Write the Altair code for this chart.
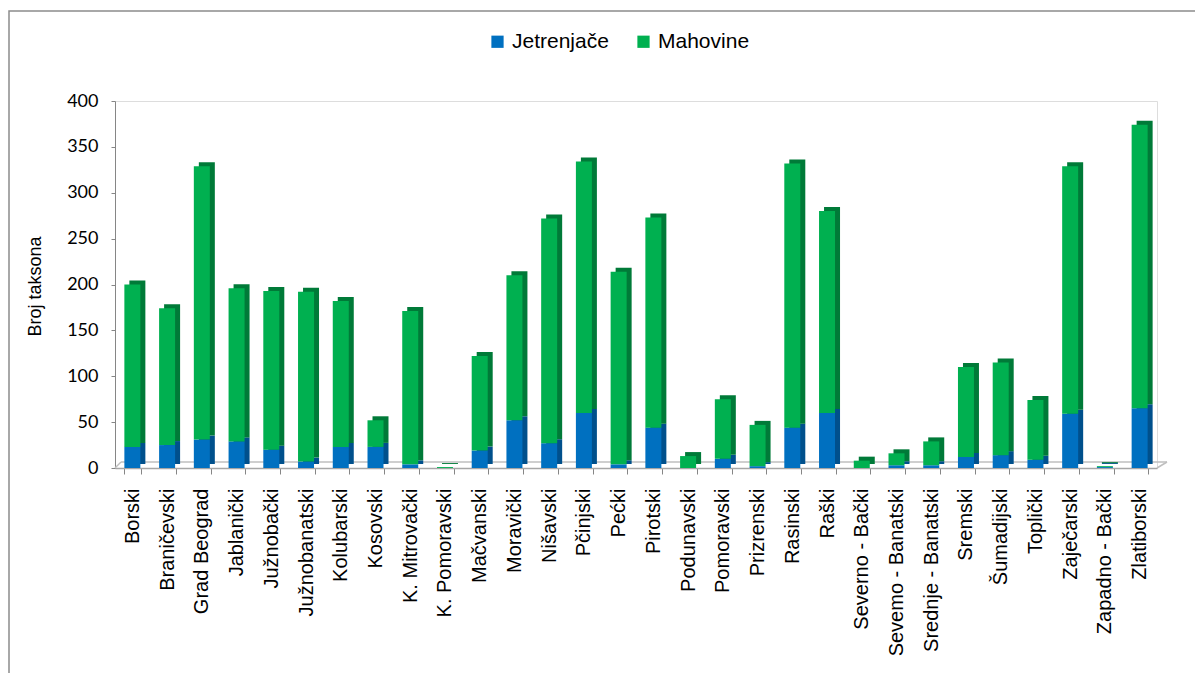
import altair as alt
import pandas as pd

okrugi = [
    "Borski", "Braničevski", "Grad Beograd", "Jablanički", "Južnobački",
    "Južnobanatski", "Kolubarski", "Kosovski", "K. Mitrovački", "K. Pomoravski",
    "Mačvanski", "Moravički", "Nišavski", "Pčinjski", "Pećki",
    "Pirotski", "Podunavski", "Pomoravski", "Prizrenski", "Rasinski",
    "Raški", "Severno - Bački", "Sevemo - Banatski", "Srednje - Banatski", "Sremski",
    "Šumadijski", "Toplički", "Zaječarski", "Zapadno - Bački", "Zlatiborski",
]
jetrenjace = [23, 25, 31, 29, 20, 7, 23, 23, 4, 0,
              19, 52, 27, 60, 4, 44, 0, 10, 2, 44,
              60, 0, 3, 3, 12, 14, 9, 59, 1, 65]
ukupno = [200, 174, 329, 196, 193, 192, 182, 52, 171, 1,
          122, 210, 272, 334, 214, 273, 13, 75, 47, 332,
          280, 8, 16, 29, 110, 115, 74, 329, 2, 374]
mahovine = [t - j for t, j in zip(ukupno, jetrenjace)]

serije = ["Jetrenjače", "Mahovine"]
boje = ["#0070C0", "#00B050"]
boje_tamne = ["#00508C", "#007A38"]

rows = []
for i, o in enumerate(okrugi):
    rows.append({"Okrug": o, "Vrsta": serije[0], "Broj": jetrenjace[i], "red": 0})
    rows.append({"Okrug": o, "Vrsta": serije[1], "Broj": mahovine[i], "red": 1})
df = pd.DataFrame(rows)

W, H = 1042, 367

x_enc = alt.X("Okrug:N", sort=okrugi, title=None,
              scale=alt.Scale(paddingInner=0.5, paddingOuter=0.25),
              axis=alt.Axis(labelAngle=-90, labelAlign="right", labelBaseline="middle",
                            labelFont="Liberation Sans", labelFontSize=20, labelColor="#000000",
                            labelPadding=14, labelLimit=300, tickBand="extent", tickSize=6,
                            tickColor="#868686", domainColor="#A6A6A6", domainWidth=1.5,
                            grid=False))
y_enc = alt.Y("Broj:Q", stack="zero",
              scale=alt.Scale(domain=[0, 400]),
              axis=alt.Axis(values=list(range(0, 401, 50)), title="Broj taksona",
                            labelFont="Lato", labelFontSize=18, labelColor="#000000",
                            labelPadding=13, tickSize=4, tickColor="#868686",
                            domainColor="#868686", grid=False,
                            titleFont="Liberation Sans", titleFontSize=18,
                            titleFontWeight="normal", titleColor="#000000",
                            titleAngle=-90, titleX=-80, titleY=185,
                            titleAlign="center", titleBaseline="middle"))

base = alt.Chart(df)

back = base.mark_bar(size=16, xOffset=5, yOffset=-4).encode(
    x=x_enc, y=y_enc,
    color=alt.Color("Vrsta:N", scale=alt.Scale(domain=serije, range=boje_tamne), legend=None),
    order=alt.Order("red:Q"),
)

front = base.mark_bar(size=16).encode(
    x=x_enc, y=y_enc,
    color=alt.Color("Vrsta:N", scale=alt.Scale(domain=serije, range=boje),
                    legend=alt.Legend(title=None, orient="none", legendX=372, legendY=-70,
                                      direction="horizontal", symbolType="square",
                                      symbolSize=150, symbolStrokeWidth=0,
                                      labelFont="Liberation Sans", labelFontSize=21,
                                      labelColor="#000000", labelOffset=4,
                                      columnPadding=24)),
    order=alt.Order("red:Q"),
)

floor_back = alt.Chart(pd.DataFrame({"v": [0]})).mark_rule(color="#BFBFBF", strokeWidth=1.5).encode(
    x=alt.value(6), x2=alt.value(W + 10), y=alt.value(H - 6))
floor_left = alt.Chart(pd.DataFrame({"v": [0]})).mark_rule(color="#BFBFBF", strokeWidth=1.5).encode(
    x=alt.value(0), x2=alt.value(6), y=alt.value(H), y2=alt.value(H - 6))
floor_right = alt.Chart(pd.DataFrame({"v": [0]})).mark_rule(color="#BFBFBF", strokeWidth=1.5).encode(
    x=alt.value(W), x2=alt.value(W + 10), y=alt.value(H), y2=alt.value(H - 6))

frame = alt.Chart(pd.DataFrame({"v": [0]})).mark_rect(
    fill=None, stroke="#8C8C8C", strokeWidth=1.5).encode(
    x=alt.value(-106), x2=alt.value(1300), y=alt.value(-90), y2=alt.value(800))

chart = alt.layer(frame, floor_back, floor_left, floor_right, back, front).resolve_scale(
    color="independent"
).properties(
    width=W, height=H,
    autosize=alt.AutoSizeParams(type="none"),
    padding={"left": 107, "top": 93, "right": 38, "bottom": 205},
).configure_view(stroke=None).configure(background="#FFFFFF")

chart.save("out.html", embed_options={"renderer": "svg", "actions": False})
